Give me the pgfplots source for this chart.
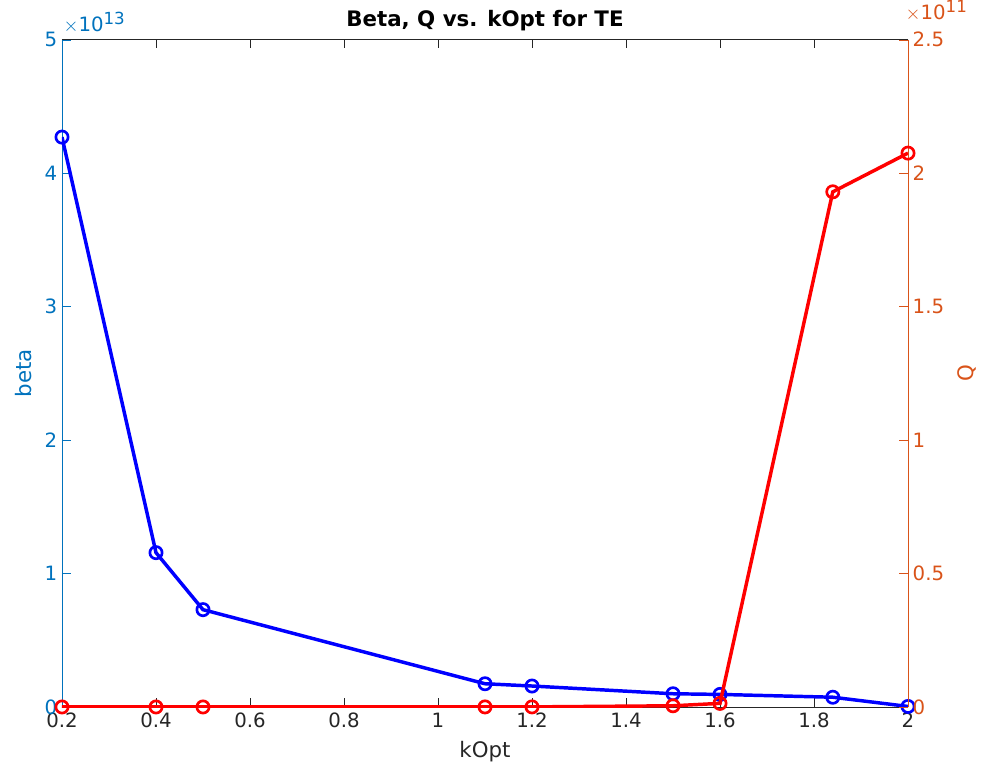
\documentclass[border=0pt]{standalone}
\usepackage{fontspec}
\setmainfont{DejaVu Sans}
\usepackage{pgfplots}
\pgfplotsset{compat=1.18}
\definecolor{mblue}{rgb}{0,0.447,0.741}
\definecolor{morange}{rgb}{0.85,0.325,0.098}
\definecolor{mgray}{rgb}{0.15,0.15,0.15}

\begin{document}
\begin{tikzpicture}
\pgfplotsset{
  common/.style={
    scale only axis,
    width=634.5pt, height=500.6pt,
    xmin=0.2, xmax=2,
    font=\fontsize{14.8}{17}\selectfont,
    /pgf/number format/assume math mode=true,
    tick align=inside,
    major tick length=6.5pt,
    axis line style={line width=0.6pt},
  },
  lineplot/.style={line width=2.6pt, mark=o, mark size=4.6pt, mark options={line width=2pt}},
}
% left axis: beta (x 10^13)
\begin{axis}[
  common,
  name=main,
  axis x line=box,
  axis y line*=left,
  x axis line style={mgray},
  y axis line style={mblue},
  xtick={0.2,0.4,...,2.0},
  xticklabels={0.2,0.4,0.6,0.8,1,1.2,1.4,1.6,1.8,2},
  x tick style={mgray},
  xticklabel style={text=mgray, yshift=-1pt},
  ymin=0, ymax=5,
  ytick={0,1,2,3,4,5},
  y tick style={mblue},
  yticklabel style={text=mblue},
  xlabel={kOpt},
  xlabel style={text=mgray, font=\fontsize{16}{18}\selectfont, yshift=-3pt},
  ylabel={beta},
  ylabel style={text=mblue, font=\fontsize{16}{18}\selectfont, yshift=3pt},
  title={\bfseries Beta, Q vs. kOpt for TE},
  title style={font=\fontsize{16}{18}\selectfont, yshift=-3pt},
]
\addplot[blue, lineplot] coordinates {
  (0.2,4.27) (0.4,1.157) (0.5,0.73) (1.1,0.175) (1.2,0.158)
  (1.5,0.100) (1.6,0.095) (1.84,0.074) (2.0,0.005)
};
\end{axis}
\node[text=mblue, font=\fontsize{14.8}{17}\selectfont, anchor=south west, inner sep=0pt]
  at ([xshift=1pt,yshift=5pt]main.north west) {$\times$10\textsuperscript{\fontsize{12.5}{14}\selectfont 13}};
% right axis: Q (x 10^11)
\begin{axis}[
  common,
  axis x line=none,
  axis y line*=right,
  y axis line style={morange},
  ymin=0, ymax=2.5,
  ytick={0,0.5,1,1.5,2,2.5},
  yticklabels={0,0.5,1,1.5,2,2.5},
  y tick style={morange},
  yticklabel style={text=morange},
  ylabel={Q},
  ylabel style={text=morange, font=\fontsize{16}{18}\selectfont, yshift=-3pt},
]
\addplot[red, lineplot] coordinates {
  (0.2,0.0005) (0.4,0.0005) (0.5,0.0005) (1.1,0.0007) (1.2,0.0008)
  (1.5,0.005) (1.6,0.014) (1.84,1.93) (2.0,2.075)
};
\end{axis}
\node[text=morange, font=\fontsize{14.8}{17}\selectfont, anchor=south west, inner sep=0pt]
  at ([xshift=-2pt,yshift=14pt]main.north east) {$\times$10\textsuperscript{\fontsize{12.5}{14}\selectfont 11}};
% page frame with the reference's margins
\path ([xshift=-46.5pt,yshift=-48pt]main.south west) rectangle ([xshift=54.75pt,yshift=29.25pt]main.north east);
\end{tikzpicture}
\end{document}
